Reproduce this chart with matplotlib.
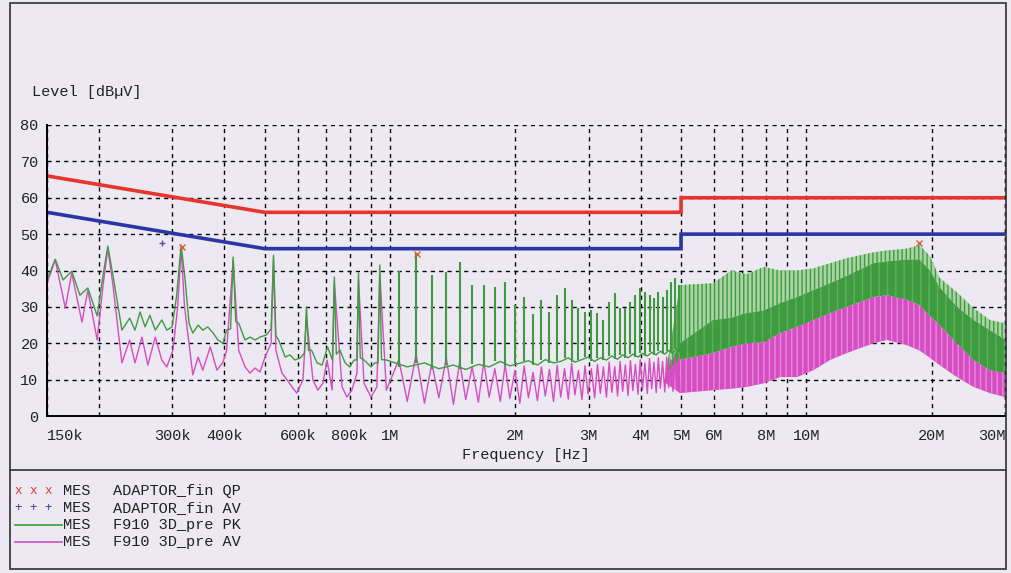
import matplotlib
matplotlib.use("Agg")
import matplotlib.pyplot as plt
from matplotlib.lines import Line2D
from matplotlib.patches import Rectangle
from matplotlib.ticker import FixedLocator, NullFormatter

plt.rcParams['font.family'] = ['Liberation Mono', 'DejaVu Sans Mono']
plt.rcParams['hatch.linewidth'] = 1.0

# limit lines (MHz, dBuV)
limit_freq = [0.15, 0.5, 5.0, 5.0, 30.0]
limit_qp = [66, 56, 56, 60, 60]
limit_av = [56, 46, 46, 50, 50]

# PK trace below 1 MHz (MHz, dBuV)
pk_low_freq = [0.150, 0.157, 0.164, 0.172, 0.180, 0.188, 0.198, 0.2045, 0.210, 0.216,
               0.2246, 0.227, 0.237, 0.244, 0.251, 0.258, 0.265, 0.273, 0.283, 0.291,
               0.2995, 0.307, 0.315, 0.322, 0.329, 0.336, 0.346, 0.355, 0.365, 0.376,
               0.386, 0.397, 0.405, 0.414, 0.420, 0.426, 0.433, 0.4485, 0.461, 0.474,
               0.487, 0.505, 0.518, 0.525, 0.532, 0.540, 0.560, 0.575, 0.591, 0.608,
               0.623, 0.630, 0.637, 0.648, 0.668, 0.687, 0.708, 0.727, 0.735, 0.743,
               0.758, 0.780, 0.800, 0.820, 0.832, 0.840, 0.848, 0.866, 0.900, 0.920,
               0.936, 0.945, 0.954, 0.980]
pk_low_level = [37.4, 43.1, 37.4, 39.8, 33.2, 35.2, 27.5, 38.7, 46.7, 38.7,
                26.9, 23.6, 26.9, 23.6, 28.6, 24.5, 27.7, 23.6, 26.4, 23.6,
                24.5, 32.7, 47.0, 37.4, 25.5, 22.8, 25.0, 23.6, 24.5, 22.8,
                20.9, 20.0, 23.6, 24.0, 43.7, 26.0, 25.5, 20.9, 21.7, 20.9,
                21.7, 22.3, 24.0, 44.2, 22.0, 20.9, 16.2, 16.8, 15.4, 15.9,
                17.3, 30.0, 18.0, 18.1, 14.6, 14.0, 19.0, 15.4, 38.2, 17.0,
                18.1, 14.6, 13.5, 15.4, 15.4, 39.3, 16.0, 15.4, 13.5, 14.6,
                14.6, 41.5, 15.5, 15.4]

# AV trace below 1 MHz
av_low_freq = [0.150, 0.157, 0.166, 0.172, 0.182, 0.188, 0.198, 0.2045, 0.210, 0.216,
               0.227, 0.237, 0.244, 0.2536, 0.262, 0.273, 0.283, 0.291, 0.301, 0.309,
               0.315, 0.321, 0.336, 0.346, 0.355, 0.370, 0.384, 0.397, 0.405, 0.420,
               0.433, 0.4485, 0.461, 0.474, 0.487, 0.501, 0.518, 0.525, 0.532, 0.550,
               0.566, 0.5815, 0.597, 0.618, 0.630, 0.653, 0.671, 0.690, 0.706, 0.726,
               0.735, 0.767, 0.788, 0.810, 0.833, 0.840, 0.866, 0.900, 0.930, 0.945,
               0.980]
av_low_level = [36.5, 42.9, 29.7, 39.3, 25.8, 34.6, 20.9, 36.0, 46.0, 36.0,
                14.6, 20.9, 14.6, 21.7, 14.0, 21.7, 15.4, 13.5, 18.1, 30.0,
                46.0, 30.0, 11.3, 16.2, 12.6, 19.0, 12.6, 14.8, 18.0, 42.9,
                18.1, 13.5, 11.8, 13.2, 12.1, 16.2, 20.0, 42.9, 18.0, 11.8,
                9.9, 8.0, 6.3, 9.9, 27.2, 9.9, 7.1, 9.0, 15.4, 7.1,
                36.5, 8.0, 5.2, 7.1, 11.8, 37.4, 9.0, 5.2, 8.0, 39.3,
                7.1]

# harmonic comb 1 MHz - 5 MHz
comb_freq = [1.05, 1.155, 1.26, 1.365, 1.47, 1.575, 1.68, 1.785, 1.89, 1.995,
             2.1, 2.205, 2.31, 2.415, 2.52, 2.625, 2.73, 2.835, 2.94, 3.045,
             3.15, 3.255, 3.36, 3.465, 3.57, 3.675, 3.78, 3.885, 3.99, 4.095,
             4.2, 4.305, 4.41, 4.515, 4.62, 4.725, 4.83, 4.935]
pk_comb_peak = [39.8, 44.8, 38.7, 39.6, 42.3, 36.0, 36.0, 35.4, 36.8, 30.5,
                32.7, 28.0, 31.9, 28.6, 33.2, 35.1, 31.9, 29.6, 28.6, 29.1,
                28.3, 26.4, 31.3, 33.8, 29.7, 29.6, 31.3, 33.2, 35.1, 34.1,
                33.2, 32.4, 34.0, 32.7, 34.6, 36.8, 37.9, 36.0]
trough_freq = [1.10, 1.21, 1.31, 1.42, 1.52, 1.63, 1.73, 1.84, 1.94, 2.05,
               2.15, 2.26, 2.36, 2.47, 2.57, 2.68, 2.78, 2.89, 2.99, 3.10,
               3.20, 3.31, 3.41, 3.52, 3.62, 3.73, 3.83, 3.94, 4.04, 4.15,
               4.25, 4.36, 4.46, 4.57, 4.67, 4.78, 4.88, 4.97]
pk_trough = [13.5, 14.6, 13.0, 14.0, 12.8, 14.2, 13.5, 15.0, 13.8, 14.5,
             15.2, 14.0, 15.5, 14.6, 15.0, 16.0, 14.8, 15.5, 16.2, 15.0,
             16.0, 15.4, 16.5, 15.6, 16.8, 16.0, 17.0, 16.2, 17.2, 16.5,
             17.5, 16.8, 17.8, 17.0, 18.0, 17.2, 18.5, 17.5]
av_comb_peak = [15.5, 17.0, 14.5, 16.0, 15.0, 13.5, 14.8, 13.0, 14.2, 12.5,
                13.8, 12.0, 13.5, 12.8, 14.0, 13.0, 14.5, 12.5, 13.8, 13.0,
                14.2, 13.5, 14.8, 13.6, 15.0, 14.0, 15.2, 14.2, 15.5, 14.6,
                15.8, 14.8, 16.0, 15.0, 16.2, 15.4, 16.5, 16.0]
av_trough = [4.0, 3.5, 5.0, 3.2, 4.5, 3.8, 5.2, 4.0, 4.8, 3.5,
             5.0, 4.2, 5.5, 4.0, 5.2, 4.6, 5.8, 4.5, 6.0, 5.0,
             6.2, 5.2, 6.5, 5.5, 6.8, 5.6, 7.0, 6.0, 7.2, 6.2,
             7.5, 6.4, 7.6, 6.6, 7.8, 6.8, 8.0, 6.5]

# dense band (envelopes), 4.6 MHz - 30 MHz
band_freq = [4.6, 4.97, 5.97, 6.6, 7.2, 7.9, 8.65, 9.5, 10.4, 11.4, 12.5,
             14.5, 15.6, 17.4, 18.7, 19.8, 20.9, 23.0, 25.2, 27.6, 30.0]
pk_spike_top = [12.0, 36.0, 36.5, 40.0, 39.0, 41.0, 40.0, 40.0, 40.6, 42.0, 43.4,
                45.0, 45.5, 46.0, 47.0, 44.0, 38.0, 34.0, 29.7, 26.4, 25.5]
pk_solid_top = [12.0, 20.0, 26.4, 27.0, 28.3, 29.0, 31.0, 32.7, 34.6, 36.5, 38.5,
                42.0, 42.5, 43.0, 43.0, 40.0, 35.4, 30.0, 26.4, 23.6, 21.0]
av_band_top = [12.0, 15.5, 17.3, 19.0, 20.0, 20.3, 22.8, 24.5, 26.4, 28.3, 30.0,
               32.7, 33.2, 32.0, 30.5, 27.5, 25.0, 20.0, 15.4, 12.6, 11.8]
av_band_low = [9.0, 6.3, 7.1, 7.5, 8.0, 9.0, 10.7, 10.7, 12.6, 15.4, 17.3,
               20.0, 20.9, 19.5, 18.0, 16.0, 14.0, 10.7, 8.0, 6.3, 5.2]

# final measurement points
qp_freq = [0.316, 1.16, 18.6]
qp_level = [46.5, 44.5, 47.5]
av_freq = [0.283]
av_level = [47.5]

tick_vals = [0.15, 0.3, 0.4, 0.6, 0.8, 1, 2, 3, 4, 5, 6, 8, 10, 20, 30]
tick_labels = ["150k", "300k", "400k", "600k", "800k", "1M", "2M", "3M", "4M",
               "5M", "6M", "8M", "10M", "20M", "30M"]
minor_vals = [0.2, 0.5, 0.7, 0.9, 7, 9]

BG = "#ece9f3"
GREEN = "#3f9b3f"
LIGHT_GREEN = "#a9d4a3"
MAGENTA = "#d64cc2"
RED = "#e8342c"
BLUE = "#2b36a6"
W, H = 1012, 573


def hz(values):
    return [v * 1e6 for v in values]


fig = plt.figure(figsize=(W / 100, H / 100), dpi=100, facecolor=BG)
ax = fig.add_axes([47 / W, 1 - 416 / H, (1005 - 47) / W, (416 - 125) / H])
ax.set_facecolor(BG)

# AV trace (drawn first, PK on top)
av_comb_f, av_comb_l = [], []
for f, p, tf, tl in zip(comb_freq, av_comb_peak, trough_freq, av_trough):
    av_comb_f += [f, tf]
    av_comb_l += [p, tl]
ax.fill_between(hz(band_freq), av_band_low, av_band_top, facecolor=MAGENTA,
                edgecolor="#e58ad8", hatch="|||", lw=0)
ax.plot(hz(av_low_freq + av_comb_f), av_low_level + av_comb_l, color=MAGENTA, lw=1.0)

# PK trace
ax.plot(hz(pk_low_freq + trough_freq), pk_low_level + pk_trough, color=GREEN, lw=1.0)
ax.vlines(hz(comb_freq), pk_trough, pk_comb_peak, color=GREEN, lw=1.5)
ax.fill_between(hz(band_freq), pk_solid_top, pk_spike_top, facecolor=LIGHT_GREEN,
                edgecolor=GREEN, hatch="||||", lw=0)
ax.fill_between(hz(band_freq), av_band_top, pk_solid_top, facecolor=GREEN,
                edgecolor="#5cb25a", hatch="||", lw=0)

# limits
ax.plot(hz(limit_freq), limit_qp, color=RED, lw=2.6, solid_joinstyle="miter")
ax.plot(hz(limit_freq), limit_av, color=BLUE, lw=2.6, solid_joinstyle="miter")

ax.plot(hz(qp_freq), qp_level, "x", color="#d9603a", ms=5, mew=1.0)
ax.plot(hz(av_freq), av_level, "+", color="#4a5aa8", ms=5, mew=1.0)

ax.set_xscale("log")
ax.set_xlim(0.15e6, 30e6)
ax.set_ylim(0, 80)
ax.xaxis.set_major_locator(FixedLocator(hz(tick_vals)))
ax.xaxis.set_minor_locator(FixedLocator(hz(minor_vals)))
ax.xaxis.set_minor_formatter(NullFormatter())
ax.set_xticklabels(tick_labels)
ax.set_yticks(range(0, 81, 10))
labels = ax.get_xticklabels()
labels[0].set_ha("left")
labels[-1].set_ha("right")
ax.tick_params(axis="both", which="both", length=0, labelsize=11, colors="#222222")
ax.tick_params(axis="x", pad=9)
ax.tick_params(axis="y", pad=6)
ax.grid(True, which="both", color="black", linestyle=(0, (3, 3)), lw=1.0)
ax.axvline(30e6, color="black", linestyle=(0, (3, 3)), lw=1.0, clip_on=False)
ax.set_axisbelow(True)
for side in ["top", "right"]:
    ax.spines[side].set_visible(False)
ax.spines["left"].set_linewidth(1.4)
ax.spines["bottom"].set_linewidth(1.4)
ax.set_xlabel("Frequency [Hz]", fontsize=11, color="#222222", labelpad=4)

fig.text(32 / W, 1 - 92 / H, "Level [dB\u00b5V]", fontsize=11, color="#222222",
         ha="left", va="center")

# frame and legend box
fig.add_artist(Rectangle((10 / W, 4 / H), 996 / W, 566 / H, transform=fig.transFigure,
                         fill=False, ec="#333333", lw=1.2))
fig.add_artist(Line2D([10 / W, 1006 / W], [1 - 470 / H, 1 - 470 / H],
                      transform=fig.transFigure, color="#333333", lw=1.2))

legend_rows = [("x x x", RED, "ADAPTOR_fin QP"), ("+ + +", BLUE, "ADAPTOR_fin AV"),
               (None, GREEN, "F910 3D_pre PK"), (None, MAGENTA, "F910 3D_pre AV")]
for i, (sym, col, name) in enumerate(legend_rows):
    y = 1 - (491 + 17 * i) / H
    if sym:
        fig.text(15 / W, y, sym, fontsize=9, color=col, ha="left", va="center")
    else:
        fig.add_artist(Line2D([15 / W, 62 / W], [y, y], transform=fig.transFigure,
                              color=col, lw=1.2))
    fig.text(63 / W, y, "MES", fontsize=11, color="#222222", ha="left", va="center")
    fig.text(113 / W, y, name, fontsize=11, color="#222222", ha="left", va="center")

fig.savefig("out.png", dpi=100, facecolor=BG)
